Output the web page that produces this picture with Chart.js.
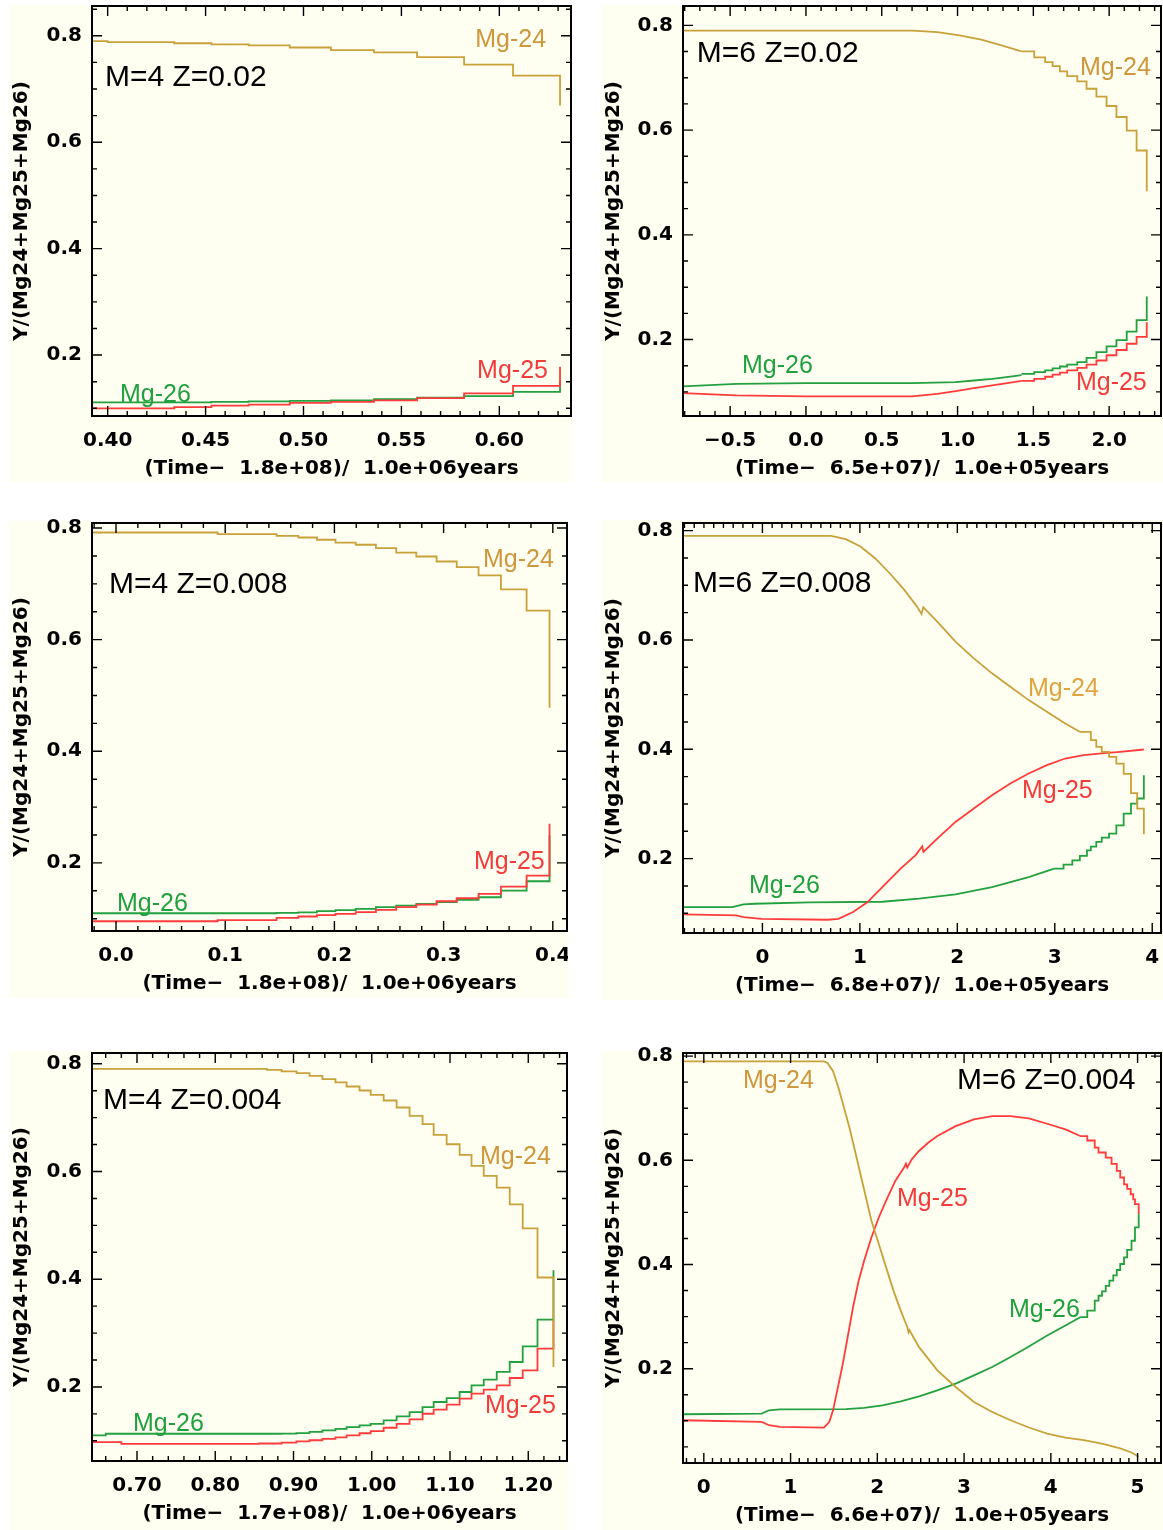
<!DOCTYPE html>
<html><head><meta charset="utf-8">
<script src="https://cdn.jsdelivr.net/npm/chart.js@4.4.0/dist/chart.umd.min.js"></script>
<style>
html,body{margin:0;padding:0;background:#fff;}
body{position:relative;width:1163px;height:1530px;overflow:hidden;}
canvas{position:absolute;}
</style></head><body>
<canvas id="c1"></canvas><canvas id="c2"></canvas><canvas id="c3"></canvas>
<canvas id="c4"></canvas><canvas id="c5"></canvas><canvas id="c6"></canvas>
<script>
// ---------- shared axis data ----------
const yTicks = [0.2, 0.4, 0.6, 0.8];
const yTickLabels = ['0.2', '0.4', '0.6', '0.8'];
const yTitle = 'Y/(Mg24+Mg25+Mg26)';

// ---------- Panel 1: M=4 Z=0.02 ----------
const p1XTicks = [0.40, 0.45, 0.50, 0.55, 0.60];
const p1XTickLabels = ['0.40', '0.45', '0.50', '0.55', '0.60'];
const p1Mg24X = [0.392, 0.400, 0.434, 0.453, 0.472, 0.493, 0.514, 0.536, 0.558, 0.582, 0.607, 0.631];
const p1Mg24Y = [0.790, 0.788, 0.786, 0.784, 0.782, 0.778, 0.773, 0.769, 0.760, 0.746, 0.725, 0.669];
const p1Mg25X = [0.392, 0.434, 0.453, 0.472, 0.493, 0.514, 0.536, 0.558, 0.582, 0.607, 0.631];
const p1Mg25Y = [0.100, 0.102, 0.105, 0.107, 0.110, 0.112, 0.115, 0.119, 0.128, 0.142, 0.178];
const p1Mg26X = [0.392, 0.453, 0.472, 0.493, 0.514, 0.536, 0.558, 0.582, 0.607, 0.631];
const p1Mg26Y = [0.111, 0.112, 0.113, 0.114, 0.115, 0.117, 0.120, 0.123, 0.131, 0.150];

// ---------- Panel 2: M=6 Z=0.02 ----------
const p2XTicks = [-0.5, 0.0, 0.5, 1.0, 1.5, 2.0];
const p2XTickLabels = ['\u22120.5', '0.0', '0.5', '1.0', '1.5', '2.0'];
const p2Mg24SmoothX = [-0.811, 0.699, 0.867, 1.012, 1.157, 1.301, 1.422];
const p2Mg24SmoothY = [0.790, 0.790, 0.787, 0.781, 0.773, 0.761, 0.7505];
const p2StepX = [1.422, 1.506, 1.578, 1.627, 1.675, 1.723, 1.790, 1.851, 1.916, 1.983, 2.048, 2.116, 2.181, 2.248];
const p2Mg24StepY = [0.7505, 0.739, 0.730, 0.722, 0.712, 0.703, 0.693, 0.679, 0.664, 0.646, 0.625, 0.599, 0.561, 0.483];
const p2Mg25SmoothX = [-0.811, -0.458, 0.0, 0.699, 0.867, 0.988, 1.108, 1.229, 1.349, 1.422];
const p2Mg25SmoothY = [0.0977, 0.0933, 0.0914, 0.0914, 0.0964, 0.1015, 0.1072, 0.1123, 0.1176, 0.121];
const p2Mg25StepY = [0.121, 0.125, 0.129, 0.133, 0.137, 0.141, 0.146, 0.152, 0.160, 0.170, 0.180, 0.192, 0.205, 0.233];
const p2Mg26SmoothX = [-0.811, -0.458, 0.0, 0.699, 0.988, 1.108, 1.229, 1.349, 1.422];
const p2Mg26SmoothY = [0.1104, 0.1155, 0.1168, 0.1168, 0.1187, 0.1218, 0.125, 0.1294, 0.132];
const p2Mg26StepY = [0.1345, 0.1377, 0.141, 0.145, 0.1485, 0.152, 0.157, 0.165, 0.176, 0.187, 0.199, 0.215, 0.237, 0.282];

// ---------- Panel 3: M=4 Z=0.008 ----------
const p3XTicks = [0.0, 0.1, 0.2, 0.3, 0.4];
const p3XTickLabels = ['0.0', '0.1', '0.2', '0.3', '0.4'];
const p3X = [-0.022, 0.093, 0.147, 0.167, 0.184, 0.201, 0.2195, 0.238, 0.2566, 0.275, 0.2936, 0.312, 0.332, 0.3525, 0.376, 0.397];
const p3Mg24Y = [0.792, 0.789, 0.786, 0.783, 0.779, 0.774, 0.770, 0.764, 0.756, 0.749, 0.740, 0.730, 0.715, 0.690, 0.652, 0.478];
const p3Mg25Y = [0.0955, 0.0975, 0.1015, 0.104, 0.1063, 0.1087, 0.1117, 0.1158, 0.1206, 0.1254, 0.1313, 0.1367, 0.1445, 0.1576, 0.1773, 0.270];
const p3Mg26Y = [0.1098, 0.1098, 0.1105, 0.1115, 0.1135, 0.1153, 0.1176, 0.1206, 0.1236, 0.1266, 0.1296, 0.1338, 0.1385, 0.1504, 0.1671, 0.249];

// ---------- Panel 4: M=6 Z=0.008 ----------
const p4XTicks = [0, 1, 2, 3, 4];
const p4XTickLabels = ['0', '1', '2', '3', '4'];
const p4Mg24SmoothX = [-0.815, 0.705, 0.855, 1.006, 1.156, 1.306, 1.456, 1.587, 1.632, 1.651, 1.794, 1.981, 2.169, 2.356, 2.544, 2.732, 2.919, 3.107, 3.257];
const p4Mg24SmoothY = [0.7905, 0.7905, 0.7844, 0.771, 0.7496, 0.7221, 0.6916, 0.661, 0.6476, 0.660, 0.6336, 0.597, 0.5664, 0.539, 0.5145, 0.490, 0.4687, 0.4473, 0.432];
const p4Mg24StepX = [3.257, 3.37, 3.426, 3.482, 3.557, 3.632, 3.707, 3.782, 3.846, 3.914];
const p4Mg24StepY = [0.432, 0.4168, 0.4046, 0.3954, 0.3863, 0.374, 0.355, 0.32, 0.2916, 0.2446];
const p4Mg25X = [-0.815, -0.27, -0.195, -0.0075, 0.668, 0.78, 0.93, 1.08, 1.23, 1.418, 1.57, 1.64, 1.652, 1.794, 1.981, 2.169, 2.356, 2.544, 2.732, 2.919, 3.107, 3.295, 3.482, 3.67, 3.914];
const p4Mg25Y = [0.098, 0.0962, 0.093, 0.090, 0.0882, 0.090, 0.1023, 0.1206, 0.148, 0.1817, 0.206, 0.2226, 0.2122, 0.2367, 0.2672, 0.2916, 0.316, 0.3374, 0.3557, 0.371, 0.3832, 0.3893, 0.3924, 0.3954, 0.3997];
const p4Mg26SmoothX = [-0.815, -0.31, -0.195, -0.08, 0.48, 1.23, 1.606, 1.981, 2.356, 2.732, 2.994];
const p4Mg26SmoothY = [0.1114, 0.1114, 0.1163, 0.1175, 0.120, 0.1212, 0.1267, 0.1347, 0.148, 0.1664, 0.1817];
const p4Mg26StepX = [2.994, 3.09, 3.18, 3.257, 3.33, 3.37, 3.426, 3.482, 3.557, 3.632, 3.707, 3.782, 3.846, 3.914];
const p4Mg26StepY = [0.1817, 0.189, 0.197, 0.205, 0.2153, 0.222, 0.2306, 0.2385, 0.2458, 0.261, 0.2824, 0.3007, 0.31, 0.3527];

// ---------- Panel 5: M=4 Z=0.004 ----------
const p5XTicks = [0.70, 0.80, 0.90, 1.00, 1.10, 1.20];
const p5XTickLabels = ['0.70', '0.80', '0.90', '1.00', '1.10', '1.20'];
const p5Mg24X = [0.6425, 0.8659, 0.8848, 0.9038, 0.9204, 0.937, 0.9536, 0.9678, 0.9844, 0.9986, 1.0152, 1.0318, 1.0483, 1.0649, 1.0791, 1.0957, 1.1123, 1.1275, 1.1431, 1.1597, 1.1763, 1.1929, 1.2118, 1.2322];
const p5Mg24Y = [0.7907, 0.7888, 0.7857, 0.7826, 0.7777, 0.7715, 0.7653, 0.7578, 0.7504, 0.7423, 0.7318, 0.7188, 0.7033, 0.6878, 0.668, 0.6506, 0.6307, 0.6103, 0.5917, 0.570, 0.539, 0.4943, 0.4032, 0.237];
const p5Mg25X = [0.6425, 0.68, 0.856, 0.8848, 0.9038, 0.9204, 0.937, 0.9536, 0.9678, 0.9844, 0.9986, 1.0152, 1.0318, 1.0483, 1.0649, 1.0791, 1.0957, 1.1123, 1.1275, 1.1431, 1.1597, 1.1763, 1.1929, 1.2118, 1.2322];
const p5Mg25Y = [0.0976, 0.0944, 0.095, 0.0965, 0.0988, 0.101, 0.1037, 0.1065, 0.110, 0.114, 0.118, 0.1242, 0.1316, 0.1397, 0.1502, 0.1577, 0.167, 0.1782, 0.1875, 0.1949, 0.203, 0.2166, 0.2308, 0.2711, 0.3238];
const p5Mg26X = [0.6425, 0.66, 0.8848, 0.9038, 0.9204, 0.937, 0.9536, 0.9678, 0.9844, 0.9986, 1.0152, 1.0318, 1.0483, 1.0649, 1.0791, 1.0957, 1.1123, 1.1275, 1.1431, 1.1597, 1.1763, 1.1929, 1.2118, 1.2322];
const p5Mg26Y = [0.110, 0.1131, 0.1135, 0.1143, 0.1165, 0.1192, 0.122, 0.1254, 0.1285, 0.1316, 0.1378, 0.1453, 0.1533, 0.1626, 0.172, 0.1794, 0.1906, 0.203, 0.2135, 0.2278, 0.2463, 0.2755, 0.3251, 0.4168];

// ---------- Panel 6: M=6 Z=0.004 ----------
const p6XTicks = [0, 1, 2, 3, 4, 5];
const p6XTickLabels = ['0', '1', '2', '3', '4', '5'];
const p6Mg24X = [-0.24, 1.384, 1.426, 1.49, 1.553, 1.616, 1.679, 1.743, 1.806, 1.869, 1.932, 2.017, 2.101, 2.186, 2.27, 2.346, 2.36, 2.37, 2.481, 2.692, 2.903, 3.114, 3.325, 3.536, 3.747, 3.958, 4.169, 4.38, 4.59, 4.80, 4.93, 5.013];
const p6Mg24Y = [0.790, 0.790, 0.787, 0.771, 0.739, 0.7008, 0.6625, 0.6179, 0.5732, 0.5285, 0.4839, 0.4392, 0.3945, 0.3499, 0.3116, 0.2797, 0.270, 0.274, 0.2414, 0.1968, 0.1649, 0.1362, 0.117, 0.101, 0.0871, 0.0756, 0.0679, 0.0628, 0.0564, 0.0469, 0.0392, 0.031];
const p6Mg25SmoothX = [-0.24, 0.667, 0.751, 0.878, 1.384, 1.447, 1.49, 1.53, 1.595, 1.658, 1.72, 1.785, 1.848, 1.932, 2.017, 2.10, 2.207, 2.312, 2.33, 2.345, 2.397, 2.48, 2.586, 2.692, 2.903, 3.114, 3.325, 3.536, 3.747, 3.958, 4.169, 4.338];
const p6Mg25SmoothY = [0.1011, 0.0979, 0.0915, 0.0883, 0.087, 0.0979, 0.12, 0.1522, 0.2032, 0.2606, 0.318, 0.369, 0.4073, 0.452, 0.4903, 0.5222, 0.5604, 0.5872, 0.5935, 0.586, 0.6019, 0.6179, 0.6338, 0.6466, 0.6657, 0.6785, 0.6849, 0.6849, 0.6804, 0.6702, 0.6593, 0.6466];
const p6Mg25StepX = [4.338, 4.42, 4.506, 4.55, 4.633, 4.70, 4.76, 4.80, 4.844, 4.88, 4.92, 4.95, 4.97, 5.013];
const p6Mg25StepY = [0.6466, 0.638, 0.6242, 0.615, 0.6051, 0.593, 0.5796, 0.567, 0.554, 0.545, 0.5349, 0.525, 0.5158, 0.4966];
const p6Mg26SmoothX = [-0.24, 0.667, 0.751, 0.878, 1.637, 1.848, 2.059, 2.27, 2.481, 2.692, 2.903, 3.114, 3.325, 3.536, 3.747, 3.958, 4.169, 4.338];
const p6Mg26SmoothY = [0.1126, 0.1138, 0.1202, 0.122, 0.1226, 0.1247, 0.1298, 0.1375, 0.147, 0.1585, 0.1713, 0.1872, 0.2032, 0.2223, 0.2427, 0.2638, 0.2829, 0.2989];
const p6Mg26StepX = [4.338, 4.42, 4.506, 4.55, 4.59, 4.633, 4.675, 4.72, 4.76, 4.80, 4.844, 4.88, 4.93, 4.97, 5.013];
const p6Mg26StepY = [0.2989, 0.3116, 0.3308, 0.34, 0.3486, 0.359, 0.369, 0.379, 0.3895, 0.401, 0.4137, 0.428, 0.4456, 0.4711, 0.4966];

// ---------- styles ----------
const GOLD = '#c9a13b', RED = '#ff3b3b', GREEN = '#23a03f';
const GOLD_T = '#cd973b', RED_T = '#f23c3c', GREEN_T = '#22a040';
const CREAM = '#fefef1';
const AXIS_FONT = {family: 'DejaVu Sans', size: 20, weight: 'bold', lineHeight: 1.2};
const EXT = 12;

function pts(xs, ys) { return xs.map((x, i) => ({x: x, y: ys[i]})); }
function S(xs, ys, c, step) { return {xs: xs, ys: ys, c: c, step: step}; }
function xTitle(t0, unit) { return '(Time\u2212  ' + t0 + ')/  ' + unit + 'years'; }

const panels = [
  {id: 'c1', box: [9, 5, 563, 477], area: [92, 6, 571, 416], xr: [0.392, 0.6366], yr: [0.0855, 0.856],
   xt: p1XTicks, xl: p1XTickLabels, xminor: 0.01, title: xTitle('1.8e+08', '1.0e+06'),
   series: [S(p1Mg24X, p1Mg24Y, GOLD, true), S(p1Mg25X, p1Mg25Y, RED, true), S(p1Mg26X, p1Mg26Y, GREEN, true)],
   notes: [['Mg-24', 0.800, 0.083, GOLD_T], ['M=4 Z=0.02', 0.027, 0.176, '#000', 1], ['Mg-25', 0.804, 0.890, RED_T], ['Mg-26', 0.0585, 0.949, GREEN_T]]},
  {id: 'c2', box: [601, 5, 562, 477], area: [683, 6, 1161, 416], xr: [-0.811, 2.342], yr: [0.054, 0.837],
   xt: p2XTicks, xl: p2XTickLabels, xminor: 0.1, title: xTitle('6.5e+07', '1.0e+05'),
   series: [S(p2Mg24SmoothX, p2Mg24SmoothY, GOLD, false), S(p2StepX, p2Mg24StepY, GOLD, true),
            S(p2Mg25SmoothX, p2Mg25SmoothY, RED, false), S(p2StepX, p2Mg25StepY, RED, true),
            S(p2Mg26SmoothX, p2Mg26SmoothY, GREEN, false), S(p2StepX, p2Mg26StepY, GREEN, true)],
   notes: [['M=6 Z=0.02', 0.029, 0.117, '#000', 1], ['Mg-24', 0.8305, 0.151, GOLD_T], ['Mg-26', 0.1234, 0.878, GREEN_T], ['Mg-25', 0.822, 0.9195, RED_T]]},
  {id: 'c3', box: [9, 521, 559, 477], area: [92, 523, 567, 931], xr: [-0.022, 0.413], yr: [0.078, 0.809],
   xt: p3XTicks, xl: p3XTickLabels, xminor: 0.02, title: xTitle('1.8e+08', '1.0e+06'),
   series: [S(p3X, p3Mg24Y, GOLD, true), S(p3X, p3Mg25Y, RED, true), S(p3X, p3Mg26Y, GREEN, true)],
   notes: [['Mg-24', 0.8232, 0.0907, GOLD_T], ['M=4 Z=0.008', 0.0358, 0.152, '#000', 1], ['Mg-25', 0.804, 0.831, RED_T], ['Mg-26', 0.0526, 0.934, GREEN_T]]},
  {id: 'c4', box: [601, 520, 562, 480], area: [683, 523, 1161, 933], xr: [-0.815, 4.09], yr: [0.064, 0.814],
   xt: p4XTicks, xl: p4XTickLabels, xminor: 0.1, title: xTitle('6.8e+07', '1.0e+05'),
   series: [S(p4Mg24SmoothX, p4Mg24SmoothY, GOLD, false), S(p4Mg24StepX, p4Mg24StepY, GOLD, true),
            S(p4Mg25X, p4Mg25Y, RED, false),
            S(p4Mg26SmoothX, p4Mg26SmoothY, GREEN, false), S(p4Mg26StepX, p4Mg26StepY, GREEN, true)],
   notes: [['M=6 Z=0.008', 0.0209, 0.1488, '#000', 1], ['Mg-24', 0.7218, 0.405, '#dfa43f'], ['Mg-25', 0.709, 0.6537, RED_T], ['Mg-26', 0.138, 0.8854, GREEN_T]]},
  {id: 'c5', box: [9, 1051, 559, 479], area: [92, 1053, 567, 1461], xr: [0.6425, 1.2495], yr: [0.0625, 0.82],
   xt: p5XTicks, xl: p5XTickLabels, xminor: 0.02, title: xTitle('1.7e+08', '1.0e+06'),
   series: [S(p5Mg24X, p5Mg24Y, GOLD, true), S(p5Mg25X, p5Mg25Y, RED, true), S(p5Mg26X, p5Mg26Y, GREEN, true)],
   notes: [['M=4 Z=0.004', 0.0232, 0.1176, '#000', 1], ['Mg-24', 0.8168, 0.2549, GOLD_T], ['Mg-25', 0.8274, 0.8652, RED_T], ['Mg-26', 0.0863, 0.9093, GREEN_T]]},
  {id: 'c6', box: [601, 1051, 562, 479], area: [683, 1053, 1161, 1463], xr: [-0.24, 5.27], yr: [0.019, 0.806],
   xt: p6XTicks, xl: p6XTickLabels, xminor: 0.1, title: xTitle('6.6e+07', '1.0e+05'),
   series: [S(p6Mg24X, p6Mg24Y, GOLD, false),
            S(p6Mg25SmoothX, p6Mg25SmoothY, RED, false), S(p6Mg25StepX, p6Mg25StepY, RED, true),
            S(p6Mg26SmoothX, p6Mg26SmoothY, GREEN, false), S(p6Mg26StepX, p6Mg26StepY, GREEN, true)],
   notes: [['Mg-24', 0.1255, 0.0683, GOLD_T], ['M=6 Z=0.004', 0.5732, 0.0683, '#000', 1], ['Mg-25', 0.4477, 0.356, RED_T], ['Mg-26', 0.682, 0.6268, GREEN_T]]}
];

function minorValues(min, max, step) {
  const out = [];
  for (let k = Math.ceil(min / step - 1e-9); k * step <= max + 1e-9; k++) out.push(k * step);
  return out;
}

function makePanel(P) {
  const cv = document.getElementById(P.id);
  const [bx, by, bw, bh] = P.box;
  const [al, at, ar, ab] = P.area;
  const cy = by - EXT, ch = bh + EXT;
  cv.width = bw; cv.height = ch;
  cv.style.left = bx + 'px'; cv.style.top = cy + 'px';
  cv.style.width = bw + 'px'; cv.style.height = ch + 'px';
  const XH = 66;
  const padTop = at - cy, padRight = bx + bw - ar, padBottom = (by + bh - ab) - XH, yW = al - bx;

  const cream = {
    id: 'cream' + P.id,
    beforeDraw(chart) {
      const ctx = chart.ctx;
      ctx.save(); ctx.fillStyle = CREAM; ctx.fillRect(0, EXT, bw, bh); ctx.restore();
    }
  };
  const frame = {
    id: 'frame' + P.id,
    afterDatasetsDraw(chart) {
      const {ctx, chartArea: a, scales: {x, y}} = chart;
      ctx.save();
      ctx.strokeStyle = '#000';
      ctx.lineWidth = 1.4;
      ctx.beginPath();
      minorValues(P.xr[0], P.xr[1], P.xminor).forEach(v => {
        const p = x.getPixelForValue(v);
        const len = P.xt.some(t => Math.abs(t - v) < 1e-6) ? 10 : 5;
        ctx.moveTo(p, a.bottom); ctx.lineTo(p, a.bottom - len);
        ctx.moveTo(p, a.top); ctx.lineTo(p, a.top + len);
      });
      minorValues(P.yr[0], P.yr[1], 0.05).forEach(v => {
        const p = y.getPixelForValue(v);
        const len = yTicks.some(t => Math.abs(t - v) < 1e-6) ? 10 : 5;
        ctx.moveTo(a.left, p); ctx.lineTo(a.left + len, p);
        ctx.moveTo(a.right, p); ctx.lineTo(a.right - len, p);
      });
      ctx.stroke();
      ctx.lineWidth = 2;
      ctx.strokeRect(a.left, a.top, a.right - a.left, a.bottom - a.top);
      ctx.restore();
    }
  };
  const notes = {
    id: 'notes' + P.id,
    afterDraw(chart) {
      const {ctx, chartArea: a} = chart;
      ctx.save();
      ctx.textAlign = 'left'; ctx.textBaseline = 'middle';
      P.notes.forEach(n => {
        ctx.font = n[4] ? '30px "Liberation Sans"' : '25px "Liberation Sans"';
        ctx.fillStyle = n[3];
        ctx.fillText(n[0], a.left + n[1] * (a.right - a.left), a.top + n[2] * (a.bottom - a.top));
      });
      ctx.restore();
    }
  };

  new Chart(cv, {
    type: 'line',
    data: {datasets: P.series.map(s => ({
      data: pts(s.xs, s.ys), borderColor: s.c, backgroundColor: s.c, borderWidth: 1.8,
      pointRadius: 0, fill: false, tension: 0, stepped: s.step ? true : false
    }))},
    options: {
      responsive: false, animation: false, events: [],
      layout: {padding: {left: 0, top: padTop, right: padRight, bottom: padBottom}},
      plugins: {legend: {display: false}, tooltip: {enabled: false}},
      scales: {
        x: {
          type: 'linear', position: 'bottom', min: P.xr[0], max: P.xr[1],
          grid: {display: false, drawTicks: false}, border: {display: false},
          afterBuildTicks: s => { s.ticks = P.xt.map(v => ({value: v})); },
          afterFit: s => { s.height = XH; s.paddingLeft = 0; s.paddingRight = 0; },
          ticks: {autoSkip: false, maxRotation: 0, minRotation: 0, padding: 13, color: '#000', font: AXIS_FONT,
                  callback: (v, i) => P.xl[i]},
          title: {display: true, text: P.title, color: '#000', font: AXIS_FONT, padding: {top: 0, bottom: 1}}
        },
        y: {
          type: 'linear', position: 'left', min: P.yr[0], max: P.yr[1],
          grid: {display: false, drawTicks: false}, border: {display: false},
          afterBuildTicks: s => { s.ticks = yTicks.map(v => ({value: v})); },
          afterFit: s => { s.width = yW; s.paddingTop = 0; s.paddingBottom = 0; },
          ticks: {autoSkip: false, padding: 10, color: '#000', font: AXIS_FONT,
                  callback: (v, i) => yTickLabels[i]},
          title: {display: true, text: yTitle, color: '#000', font: AXIS_FONT, padding: {top: 1, bottom: 0}}
        }
      }
    },
    plugins: [cream, frame, notes]
  });
}
panels.forEach(makePanel);
</script>
</body></html>
